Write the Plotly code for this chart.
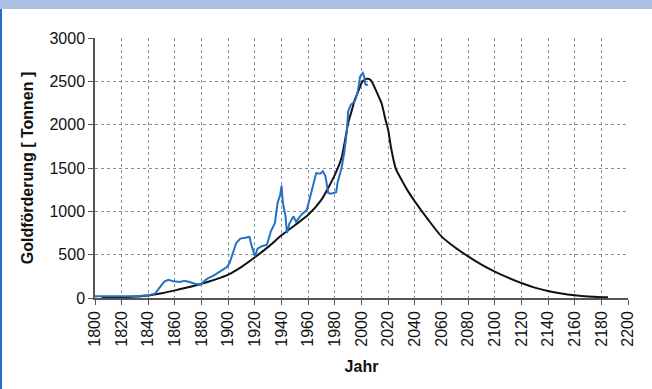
import plotly.graph_objects as go

# Historic gold production (blue)
hist_years = [1800, 1805, 1809, 1815, 1820, 1825, 1830, 1835, 1840, 1845, 1849, 1852, 1855, 1859,
              1864, 1867, 1871, 1875, 1879, 1884, 1889, 1894, 1899, 1901, 1904, 1906, 1909, 1912,
              1916, 1917, 1920, 1922, 1925, 1929, 1932, 1935, 1937, 1939, 1940, 1941, 1943, 1944,
              1946, 1949, 1951, 1952, 1955, 1959, 1961, 1964, 1966, 1969, 1971, 1973, 1975, 1977,
              1981, 1982, 1985, 1987, 1989, 1990, 1992, 1995, 1997, 1999, 2001, 2002, 2003, 2005]
hist_values = [20, 20, 20, 12, 12, 15, 20, 25, 32, 50, 135, 190, 210, 192,
               185, 200, 185, 165, 155, 220, 258, 308, 358, 404, 558, 635, 685, 692,
               704, 635, 480, 570, 596, 615, 770, 865, 1096, 1192, 1296, 1096, 942, 750,
               865, 942, 873, 904, 962, 1019, 1135, 1327, 1442, 1435, 1462, 1404, 1212, 1204,
               1220, 1327, 1500, 1673, 1923, 2154, 2230, 2270, 2365, 2558, 2596, 2558, 2460, 2460]

# Model curve (black)
model_years = [1805, 1810, 1820, 1830, 1840, 1850, 1860, 1870, 1880, 1890, 1900, 1910, 1920,
               1930, 1940, 1950, 1960, 1970, 1975, 1980, 1985, 1988, 1990, 1993, 1995, 1998,
               2000, 2002, 2004, 2006, 2008, 2010, 2013, 2015, 2018, 2020, 2022, 2024, 2026,
               2030, 2035, 2040, 2050, 2060, 2070, 2080, 2090, 2100, 2110, 2120, 2130, 2140,
               2150, 2160, 2170, 2180, 2185]
model_values = [0, 2, 8, 16, 30, 55, 88, 125, 165, 212, 270, 360, 470,
                590, 723, 840, 960, 1135, 1270, 1420, 1615, 1850, 2020, 2180, 2290, 2400,
                2480, 2515, 2530, 2525, 2490, 2425, 2320, 2250, 2058, 1942, 1750, 1596, 1480,
                1365, 1230, 1115, 904, 711, 585, 480, 385, 305, 235, 173, 120, 80,
                52, 32, 18, 10, 8]

x_ticks = list(range(1800, 2201, 20))
y_ticks = list(range(0, 3001, 500))

font = "Liberation Sans, Arial, sans-serif"

fig = go.Figure()
fig.add_trace(go.Scatter(x=model_years, y=model_values, mode="lines",
                         line=dict(color="#111111", width=2, shape="spline", smoothing=0.6),
                         showlegend=False))
fig.add_trace(go.Scatter(x=hist_years, y=hist_values, mode="lines",
                         line=dict(color="#2470c4", width=2), showlegend=False))

grid = dict(showgrid=True, gridcolor="#7d92a8", gridwidth=1, griddash="dot")

fig.update_xaxes(range=[1800, 2200], tickvals=x_ticks, ticktext=[str(t) for t in x_ticks],
                 tickangle=-90, ticks="outside", ticklen=5, tickcolor="#555555",
                 showline=True, linecolor="#555555", linewidth=1.5, automargin=False,
                 tickfont=dict(family=font, size=16, color="#111111"),
                 title=dict(text="<b>Jahr</b>", font=dict(family=font, size=16, color="#111111"), standoff=15),
                 zeroline=False, **grid)
fig.update_yaxes(range=[0, 3000], tickvals=y_ticks, ticktext=[str(t) for t in y_ticks],
                 ticks="outside", ticklen=5, tickcolor="#555555",
                 showline=True, linecolor="#555555", linewidth=1.5, automargin=False,
                 tickfont=dict(family=font, size=16, color="#111111"),
                 title=dict(text="<b>Goldförderung [ Tonnen ]</b>", font=dict(family=font, size=16, color="#111111"), standoff=12),
                 zeroline=False, **grid)

fig.update_layout(
    width=652, height=389,
    margin=dict(l=95, r=24, t=38, b=91, autoexpand=False),
    paper_bgcolor="white", plot_bgcolor="white",
    shapes=[
        dict(type="rect", xref="paper", yref="paper",
             x0=-95/533, x1=(652-95)/533, y0=1 + 29/260, y1=1 + 40/260,
             fillcolor="#adbee4", line=dict(width=0), layer="above"),
        dict(type="rect", xref="paper", yref="paper",
             x0=-96/533, x1=-93/533, y0=-92/260, y1=1 + 29/260,
             fillcolor="#1f6fcc", line=dict(width=0), layer="above"),
    ],
)

fig.write_html("out.html", config={"displayModeBar": False},
               post_script="document.body.style.margin='0';document.body.style.overflow='hidden';")
